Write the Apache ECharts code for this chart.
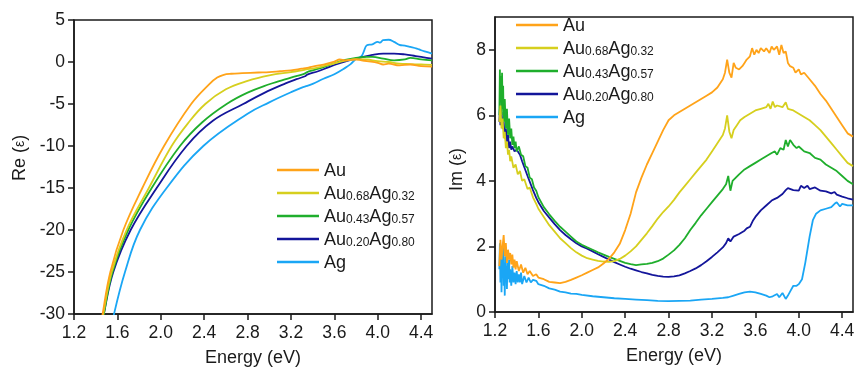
<!DOCTYPE html>
<html><head><meta charset="utf-8">
<script src="https://cdn.jsdelivr.net/npm/echarts@6/dist/echarts.min.js"></script>
<style>html,body{margin:0;padding:0;background:#fff}#c{width:856px;height:368px}</style>
</head><body><div id="c"></div>
<script>
const names = ['Au','Au0.68Ag0.32','Au0.43Ag0.57','Au0.20Ag0.80','Ag'];
const colors = ['#FFA319','#D6CF1E','#1FAE2C','#13159A','#1AA6F5'];
const xTicks = [1.2,1.6,2.0,2.4,2.8,3.2,3.6,4.0,4.4];
const reTicks = [-30,-25,-20,-15,-10,-5,0,5];
const imTicks = [0,2,4,6,8];

// Real part (left panel): [energy eV, Re(eps)]
const reAu = [[1.44,-32.3],[1.464,-30],[1.535,-25],[1.655,-20],[1.83,-15],[2.03,-10],[2.28,-5],[2.45,-2.6],[2.52,-1.85],[2.58,-1.52],[2.65,-1.4],[2.75,-1.33],[2.9,-1.25],[3.0,-1.2],[3.1,-1.1],[3.2,-1.0],[3.3,-0.8],[3.35,-0.7],[3.4,-0.55],[3.5,-0.3],[3.6,0.05],[3.65,0.3],[3.7,0.2],[3.8,0.3],[3.85,0.2],[3.9,0.1],[4.0,-0.1],[4.05,-0.3],[4.1,-0.2],[4.2,-0.4],[4.3,-0.3],[4.4,-0.5],[4.5,-0.55]];
const reAu68 = [[1.445,-32],[1.47,-30],[1.547,-25],[1.685,-20],[1.89,-15],[2.1,-10],[2.25,-7.3],[2.41,-5],[2.6,-3.25],[2.8,-2.25],[3.0,-1.6],[3.2,-1.2],[3.3,-1.0],[3.35,-0.85],[3.4,-0.8],[3.5,-0.5],[3.6,-0.15],[3.7,0.15],[3.8,0.35],[3.9,0.3],[4.0,0.1],[4.1,0.0],[4.2,-0.2],[4.3,-0.25],[4.4,-0.3],[4.5,-0.35]];
const reAu43 = [[1.45,-32],[1.475,-30],[1.555,-25],[1.70,-20],[1.916,-15],[2.177,-10],[2.38,-7.2],[2.607,-5.0],[2.8,-3.65],[3.0,-2.65],[3.1,-2.25],[3.2,-1.85],[3.3,-1.5],[3.33,-1.35],[3.35,-1.2],[3.4,-1.0],[3.5,-0.6],[3.6,-0.15],[3.7,0.25],[3.8,0.5],[3.9,0.6],[3.95,0.6],[4.05,0.4],[4.15,0.2],[4.25,0.3],[4.3,0.5],[4.4,0.3],[4.5,0.2]];
const reAu20 = [[1.45,-32],[1.475,-30],[1.562,-25],[1.722,-20],[1.962,-15],[2.238,-10],[2.48,-7.0],[2.76,-5.0],[2.95,-3.7],[3.15,-2.55],[3.25,-2.05],[3.33,-1.7],[3.35,-1.5],[3.45,-1.1],[3.55,-0.6],[3.65,-0.15],[3.75,0.25],[3.85,0.55],[3.95,0.85],[4.05,1.0],[4.15,1.0],[4.25,0.9],[4.35,0.7],[4.45,0.5],[4.5,0.4]];
const reAg = [[1.545,-32],[1.569,-30],[1.67,-25],[1.808,-20],[2.054,-15],[2.392,-10],[2.8,-6.15],[3.0,-4.8],[3.2,-3.6],[3.3,-3.05],[3.35,-2.85],[3.4,-2.6],[3.5,-2.0],[3.6,-1.45],[3.7,-0.7],[3.75,-0.25],[3.8,0.35],[3.85,0.7],[3.87,1.2],[3.9,2.0],[3.95,2.1],[4.0,2.4],[4.02,2.3],[4.05,2.6],[4.1,2.65],[4.15,2.4],[4.2,2.05],[4.25,1.95],[4.3,1.8],[4.36,1.6],[4.4,1.4],[4.45,1.2],[4.5,1.0]];

// Imaginary part (right panel): [energy eV, Im(eps)]
const imAu = [[1.24,1.4],[1.25,2.2],[1.26,1.6],[1.27,2.0],[1.28,2.35],[1.29,1.7],[1.30,2.1],[1.31,1.5],[1.32,1.9],[1.33,1.6],[1.34,1.8],[1.35,1.45],[1.36,1.75],[1.37,1.35],[1.38,1.6],[1.39,1.3],[1.40,1.55],[1.42,1.25],[1.44,1.45],[1.46,1.2],[1.48,1.35],[1.50,1.15],[1.52,1.25],[1.55,1.1],[1.58,1.15],[1.60,1.05],[1.65,1.0],[1.70,0.92],[1.75,0.9],[1.80,0.88],[1.85,0.92],[1.90,0.98],[1.95,1.05],[2.0,1.12],[2.05,1.2],[2.1,1.28],[2.15,1.36],[2.2,1.48],[2.25,1.62],[2.3,1.82],[2.35,2.08],[2.4,2.5],[2.45,3.0],[2.5,3.65],[2.55,4.1],[2.6,4.5],[2.65,4.85],[2.7,5.2],[2.75,5.55],[2.8,5.85],[2.85,6.0],[2.9,6.1],[2.95,6.2],[3.0,6.3],[3.05,6.4],[3.1,6.5],[3.15,6.6],[3.2,6.7],[3.25,6.85],[3.3,7.1],[3.32,7.3],[3.34,7.7],[3.36,7.3],[3.38,7.15],[3.40,7.6],[3.42,7.45],[3.45,7.4],[3.48,7.5],[3.5,7.6],[3.52,7.7],[3.55,7.8],[3.57,8.05],[3.59,7.85],[3.61,8.0],[3.63,7.9],[3.65,8.05],[3.68,7.95],[3.7,8.05],[3.73,7.9],[3.75,8.1],[3.77,8.0],[3.8,8.1],[3.82,7.85],[3.84,8.15],[3.86,7.9],[3.88,7.95],[3.9,7.6],[3.92,7.5],[3.95,7.45],[3.97,7.3],[4.0,7.4],[4.02,7.25],[4.05,7.3],[4.1,7.1],[4.15,6.9],[4.2,6.65],[4.25,6.45],[4.3,6.2],[4.35,5.95],[4.4,5.7],[4.45,5.45],[4.5,5.35]];
const imAu68 = [[1.24,5.8],[1.25,6.3],[1.26,5.6],[1.27,5.9],[1.28,5.3],[1.29,5.5],[1.30,5.0],[1.31,5.2],[1.32,4.8],[1.33,4.95],[1.34,4.6],[1.35,4.75],[1.37,4.4],[1.39,4.5],[1.41,4.2],[1.43,4.3],[1.45,4.0],[1.47,4.05],[1.5,3.75],[1.52,3.8],[1.55,3.5],[1.58,3.3],[1.6,3.15],[1.65,2.9],[1.7,2.65],[1.75,2.45],[1.8,2.25],[1.85,2.1],[1.9,1.95],[1.95,1.82],[2.0,1.72],[2.05,1.64],[2.1,1.6],[2.15,1.56],[2.2,1.54],[2.25,1.53],[2.3,1.55],[2.35,1.62],[2.4,1.72],[2.45,1.85],[2.5,2.0],[2.55,2.2],[2.6,2.4],[2.65,2.62],[2.7,2.85],[2.75,3.05],[2.8,3.22],[2.85,3.42],[2.9,3.65],[2.95,3.85],[3.0,4.05],[3.05,4.25],[3.1,4.45],[3.15,4.65],[3.2,4.9],[3.25,5.15],[3.3,5.4],[3.32,5.6],[3.34,6.0],[3.36,5.5],[3.38,5.3],[3.4,5.55],[3.43,5.7],[3.46,5.85],[3.5,5.95],[3.55,6.05],[3.6,6.15],[3.65,6.2],[3.7,6.25],[3.72,6.35],[3.74,6.2],[3.76,6.42],[3.78,6.25],[3.8,6.3],[3.85,6.25],[3.88,6.4],[3.9,6.2],[3.95,6.15],[4.0,6.05],[4.05,5.95],[4.1,5.85],[4.15,5.7],[4.2,5.55],[4.25,5.35],[4.3,5.15],[4.35,4.95],[4.4,4.75],[4.45,4.55],[4.5,4.45]];
const imAu43 = [[1.24,6.0],[1.245,7.4],[1.25,6.4],[1.255,7.2],[1.26,6.0],[1.265,7.3],[1.27,6.2],[1.275,6.9],[1.28,5.8],[1.29,6.5],[1.30,5.6],[1.31,6.2],[1.32,5.4],[1.33,5.9],[1.34,5.3],[1.35,5.6],[1.36,5.1],[1.37,5.35],[1.38,5.0],[1.39,5.2],[1.40,4.9],[1.42,5.05],[1.44,4.8],[1.46,4.75],[1.48,4.45],[1.5,4.4],[1.52,4.1],[1.54,4.05],[1.56,3.8],[1.58,3.7],[1.6,3.5],[1.65,3.2],[1.7,2.98],[1.75,2.78],[1.8,2.6],[1.85,2.45],[1.9,2.3],[1.95,2.15],[2.0,2.05],[2.05,1.97],[2.1,1.9],[2.15,1.82],[2.2,1.75],[2.25,1.68],[2.3,1.62],[2.35,1.56],[2.4,1.5],[2.45,1.46],[2.5,1.43],[2.55,1.45],[2.6,1.47],[2.65,1.5],[2.7,1.55],[2.75,1.63],[2.8,1.75],[2.85,1.88],[2.9,2.05],[2.95,2.25],[3.0,2.5],[3.05,2.72],[3.1,2.95],[3.15,3.15],[3.2,3.35],[3.25,3.55],[3.3,3.75],[3.33,3.9],[3.35,4.15],[3.37,3.7],[3.39,4.0],[3.42,4.1],[3.45,4.2],[3.5,4.35],[3.55,4.45],[3.6,4.55],[3.65,4.65],[3.7,4.75],[3.75,4.85],[3.78,4.9],[3.8,4.8],[3.83,5.0],[3.86,4.95],[3.88,5.25],[3.9,5.05],[3.92,5.25],[3.95,5.1],[3.98,5.0],[4.0,5.05],[4.05,4.9],[4.1,4.85],[4.15,4.7],[4.2,4.65],[4.25,4.5],[4.3,4.4],[4.35,4.3],[4.4,4.15],[4.45,4.0],[4.5,3.9]];
const imAu20 = [[1.24,5.8],[1.245,6.2],[1.25,5.7],[1.26,6.1],[1.27,5.6],[1.28,5.8],[1.29,5.3],[1.30,5.6],[1.31,5.2],[1.32,5.4],[1.33,5.0],[1.34,5.2],[1.35,4.95],[1.36,5.05],[1.38,4.9],[1.40,4.95],[1.43,4.8],[1.45,4.6],[1.5,4.15],[1.55,3.72],[1.58,3.48],[1.6,3.35],[1.65,3.08],[1.7,2.88],[1.75,2.68],[1.8,2.5],[1.85,2.35],[1.9,2.22],[1.95,2.1],[2.0,2.0],[2.05,1.93],[2.1,1.85],[2.15,1.76],[2.2,1.68],[2.25,1.6],[2.3,1.52],[2.35,1.45],[2.4,1.38],[2.45,1.32],[2.5,1.27],[2.55,1.22],[2.6,1.18],[2.65,1.13],[2.7,1.1],[2.75,1.08],[2.8,1.07],[2.85,1.09],[2.9,1.12],[2.95,1.18],[3.0,1.25],[3.05,1.33],[3.1,1.43],[3.15,1.55],[3.2,1.68],[3.25,1.82],[3.3,1.97],[3.33,2.1],[3.35,2.25],[3.37,2.15],[3.4,2.3],[3.45,2.38],[3.5,2.48],[3.52,2.55],[3.55,2.6],[3.58,2.8],[3.6,2.9],[3.65,3.1],[3.7,3.25],[3.75,3.4],[3.78,3.45],[3.8,3.48],[3.85,3.6],[3.88,3.72],[3.9,3.78],[3.95,3.72],[4.0,3.7],[4.02,3.85],[4.05,3.78],[4.08,3.85],[4.1,3.75],[4.15,3.8],[4.2,3.7],[4.25,3.68],[4.3,3.62],[4.33,3.66],[4.35,3.58],[4.4,3.52],[4.45,3.47],[4.5,3.43]];
const imAg = [[1.24,1.3],[1.245,2.1],[1.25,0.9],[1.255,1.9],[1.26,0.6],[1.265,1.6],[1.27,1.1],[1.275,2.0],[1.28,0.8],[1.285,1.5],[1.29,0.5],[1.295,1.7],[1.30,1.0],[1.305,1.4],[1.31,0.7],[1.315,1.5],[1.32,1.0],[1.33,1.6],[1.335,0.9],[1.34,1.3],[1.35,0.8],[1.36,1.4],[1.37,0.9],[1.38,1.2],[1.39,0.85],[1.40,1.25],[1.41,0.9],[1.42,1.15],[1.43,0.9],[1.44,1.2],[1.45,0.85],[1.47,1.1],[1.49,0.9],[1.51,1.05],[1.53,0.9],[1.55,0.98],[1.58,0.95],[1.6,0.85],[1.65,0.8],[1.7,0.72],[1.75,0.68],[1.8,0.62],[1.85,0.6],[1.9,0.56],[1.95,0.55],[2.0,0.52],[2.1,0.48],[2.2,0.45],[2.3,0.42],[2.4,0.4],[2.5,0.38],[2.6,0.36],[2.7,0.34],[2.8,0.33],[2.9,0.34],[3.0,0.35],[3.1,0.38],[3.2,0.4],[3.3,0.43],[3.35,0.45],[3.4,0.5],[3.45,0.55],[3.5,0.6],[3.55,0.62],[3.6,0.6],[3.65,0.55],[3.7,0.5],[3.73,0.45],[3.76,0.48],[3.8,0.55],[3.82,0.45],[3.85,0.58],[3.88,0.4],[3.9,0.5],[3.92,0.62],[3.95,0.8],[3.98,0.8],[4.0,0.85],[4.03,1.0],[4.06,1.5],[4.1,2.3],[4.13,2.8],[4.16,3.0],[4.2,3.1],[4.25,3.15],[4.3,3.2],[4.33,3.3],[4.35,3.35],[4.38,3.22],[4.4,3.3],[4.45,3.25],[4.5,3.25]];

const reData = [reAu, reAu68, reAu43, reAu20, reAg];
const imData = [imAu, imAu68, imAu43, imAu20, imAg];

const FONT = '"Liberation Sans", Arial, Helvetica, sans-serif';
const INK = '#1a1a1a';

function legendFmt(n) {
  const m = n.match(/^Au([\d.]+)Ag([\d.]+)$/);
  return m ? `{a|Au}{s|${m[1]}}{a|Ag}{s|${m[2]}}` : `{a|${n}}`;
}
const legendRich = {
  a: {fontSize: 18, lineHeight: 20, verticalAlign: 'bottom', fontFamily: FONT, color: INK},
  s: {fontSize: 12, lineHeight: 15, verticalAlign: 'bottom', fontFamily: FONT, color: INK}
};
function makeLegend(left, top) {
  return {
    orient: 'vertical', left: left, top: top, padding: 0, itemWidth: 42, itemHeight: 2.5, itemGap: 5,
    icon: 'rect', data: names, formatter: legendFmt, selectedMode: false,
    textStyle: {fontFamily: FONT, color: INK, rich: legendRich}
  };
}
function makeX(gi) {
  return {
    type: 'value', gridIndex: gi, min: 1.2, max: 4.5, interval: 0.4,
    axisLine: {show: true, onZero: false, lineStyle: {color: INK, width: 1.5}},
    axisTick: {show: true, length: 6, customValues: xTicks, lineStyle: {color: INK, width: 1.5}},
    axisLabel: {customValues: xTicks, formatter: v => v.toFixed(1), fontSize: 17.5, color: INK, fontFamily: FONT, margin: 10},
    splitLine: {show: false},
    name: 'Energy (eV)', nameLocation: 'middle', nameGap: 35,
    nameTextStyle: {fontSize: 18, color: INK, fontFamily: FONT}
  };
}
function makeY(gi, min, max, interval, ticks, nm, gap, pad) {
  return {
    type: 'value', gridIndex: gi, min: min, max: max, interval: interval,
    axisLine: {show: true, onZero: false, lineStyle: {color: INK, width: 1.5}},
    axisTick: {show: true, length: 6, customValues: ticks, lineStyle: {color: INK, width: 1.5}},
    axisLabel: {customValues: ticks, fontSize: 17.5, color: INK, fontFamily: FONT, margin: 9},
    splitLine: {show: false},
    name: `{n|${nm} (}{e|ε}{n|)}`, nameLocation: 'middle', nameGap: gap,
    nameTextStyle: {fontSize: 18, color: INK, fontFamily: FONT, padding: pad,
      rich: {n: {fontSize: 18, fontFamily: FONT, color: INK}, e: {fontSize: 14, fontFamily: FONT, color: INK}}}
  };
}

const series = [];
names.forEach((n, i) => {
  series.push({name: n, type: 'line', xAxisIndex: 0, yAxisIndex: 0, data: reData[i],
    symbol: 'none', showSymbol: false, smooth: 0.4,
    lineStyle: {width: 1.8, color: colors[i]}, itemStyle: {color: colors[i]}, z: 10 - i});
  series.push({name: n, type: 'line', xAxisIndex: 1, yAxisIndex: 1, data: imData[i],
    symbol: 'none', showSymbol: false, smooth: false,
    lineStyle: {width: 1.8, color: colors[i]}, itemStyle: {color: colors[i]}, z: 10 - i});
});

const chart = echarts.init(document.getElementById('c'), null, {renderer: 'canvas'});
chart.setOption({
  animation: false,
  backgroundColor: '#fff',
  color: colors,
  grid: [
    {left: 74, top: 20, width: 358, height: 294, show: true, borderColor: INK, borderWidth: 1.5, backgroundColor: 'transparent', containLabel: false, outerBoundsMode: 'none'},
    {left: 495, top: 17, width: 358, height: 295, show: true, borderColor: INK, borderWidth: 1.5, backgroundColor: 'transparent', containLabel: false, outerBoundsMode: 'none'}
  ],
  legend: [makeLegend(277, 162), makeLegend(516, 17)],
  xAxis: [makeX(0), makeX(1)],
  yAxis: [
    makeY(0, -30, 5, 5, reTicks, 'Re', 45, [0, 0, 0, 18]),
    makeY(1, 0, 9, 1, imTicks, 'Im', 29, [0, 10, 0, 0])
  ],
  series: series
});
</script>
</body></html>
